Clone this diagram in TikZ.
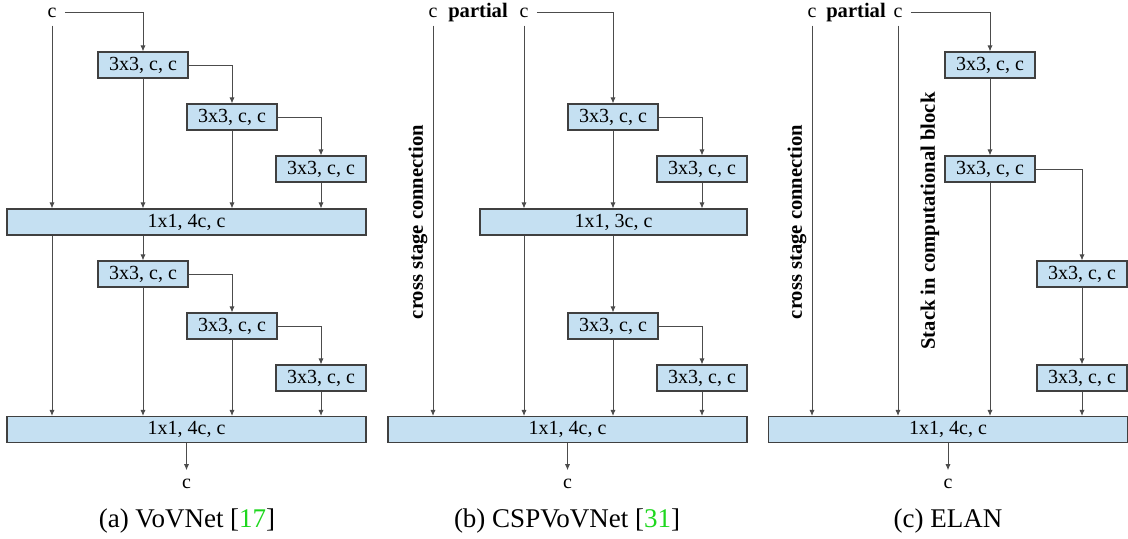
\documentclass[tikz,border=0pt]{standalone}
\usepackage{fontspec}
\setmainfont{Liberation Serif}
\usepackage{xcolor}
\usetikzlibrary{arrows.meta}
\usetikzlibrary{positioning}
\definecolor{boxblue}{RGB}{197,224,242}
\definecolor{refgreen}{RGB}{30,215,30}

\begin{document}
\begin{tikzpicture}
    [
    x=0.5pt,y=-0.5pt,
    conv/.style={draw=black!75,line width=0.6pt,fill=boxblue,minimum width=45pt,minimum height=13pt,inner sep=0pt,font=\fontsize{10}{12}\selectfont},
    agg/.style={conv,minimum width=179.5pt},
    chan/.style={inner sep=4pt,anchor=base,font=\fontsize{10}{12}\selectfont},
    tag/.style={inner sep=0pt,font=\fontsize{10.3}{12}\selectfont\bfseries},
    side/.style={tag,rotate=90},
    caption/.style={font=\fontsize{13.5}{16}\selectfont},
    link/.style={draw=black!70,line width=0.45pt,-{Latex[length=3pt,width=2.6pt]}},
    ]
    \useasboundingbox (0,0) rectangle (1128,538);

    % (a) VoVNet
    \node (ac) at (52,17) [chan] {c};
    \node (a1) at (143,65) [conv] {3x3, c, c};
    \node (a2) at (232,117) [conv] {3x3, c, c};
    \node (a3) at (321,169) [conv] {3x3, c, c};
    \node (am) at (186.5,222) [agg] {1x1, 4c, c};
    \node (a4) at (143,274) [conv] {3x3, c, c};
    \node (a5) at (232,326) [conv] {3x3, c, c};
    \node (a6) at (321,378) [conv] {3x3, c, c};
    \node (ao) at (186.5,429.5) [agg] {1x1, 4c, c};
    \node (aout) at (186.5,488) [chan] {c};
    \node (acap) at (187,521) [caption] {(a) VoVNet [\textcolor{refgreen}{17}]};
    \draw [link] (ac.east) -| (a1.north);
    \draw [link] (a1.east) -| (a2.north);
    \draw [link] (a2.east) -| (a3.north);
    \draw [link] (ac.south) -- (ac.south |- am.north);
    \draw [link] (a1) -- (a1 |- am.north);
    \draw [link] (a2) -- (a2 |- am.north);
    \draw [link] (a3) -- (a3 |- am.north);
    \draw [link] (a4 |- am.south) -- (a4);
    \draw [link] (ac |- am.south) -- (ac |- ao.north);
    \draw [link] (a4.east) -| (a5.north);
    \draw [link] (a5.east) -| (a6.north);
    \draw [link] (a4) -- (a4 |- ao.north);
    \draw [link] (a5) -- (a5 |- ao.north);
    \draw [link] (a6) -- (a6 |- ao.north);
    \draw [link] (ao.south) -- (aout.north);

    % (b) CSPVoVNet
    \node (bc1) at (433,17) [chan] {c};
    \node (bpart) at (478,17) [tag,anchor=base] {partial};
    \node (bc2) at (524,17) [chan] {c};
    \node (bcsc) at (418,222) [side] {cross stage connection};
    \node (b1) at (613,117) [conv] {3x3, c, c};
    \node (b2) at (702,169) [conv] {3x3, c, c};
    \node (bm) at (613.5,222) [conv,minimum width=133.5pt] {1x1, 3c, c};
    \node (b3) at (613,326) [conv] {3x3, c, c};
    \node (b4) at (702,378) [conv] {3x3, c, c};
    \node (bo) at (567.5,429.5) [agg] {1x1, 4c, c};
    \node (bout) at (567.5,488) [chan] {c};
    \node (bcap) at (567,521) [caption] {(b) CSPVoVNet [\textcolor{refgreen}{31}]};
    \draw [link] (bc2.east) -| (b1.north);
    \draw [link] (b1.east) -| (b2.north);
    \draw [link] (bc2.south) -- (bc2.south |- bm.north);
    \draw [link] (b1) -- (b1 |- bm.north);
    \draw [link] (b2) -- (b2 |- bm.north);
    \draw [link] (bc1.south) -- (bc1.south |- bo.north);
    \draw [link] (bc2 |- bm.south) -- (bc2 |- bo.north);
    \draw [link] (b3 |- bm.south) -- (b3);
    \draw [link] (b3.east) -| (b4.north);
    \draw [link] (b3) -- (b3 |- bo.north);
    \draw [link] (b4) -- (b4 |- bo.north);
    \draw [link] (bo.south) -- (bout.north);

    % (c) ELAN
    \node (cc1) at (812,17) [chan] {c};
    \node (cpart) at (856,17) [tag,anchor=base] {partial};
    \node (cc2) at (898,17) [chan] {c};
    \node (ccsc) at (797,222) [side] {cross stage connection};
    \node (cstack) at (930,221) [side] {Stack in computational block};
    \node (c1) at (990,65) [conv] {3x3, c, c};
    \node (c2) at (990,169) [conv] {3x3, c, c};
    \node (c3) at (1082,274) [conv] {3x3, c, c};
    \node (c4) at (1082,378) [conv] {3x3, c, c};
    \node (co) at (948,429.5) [agg] {1x1, 4c, c};
    \node (cout) at (948,488) [chan] {c};
    \node (ccap) at (948,521) [caption] {(c) ELAN};
    \draw [link] (cc2.east) -| (c1.north);
    \draw [link] (c1) -- (c2);
    \draw [link] (c2.east) -| (c3.north);
    \draw [link] (c3) -- (c4);
    \draw [link] (cc1.south) -- (cc1.south |- co.north);
    \draw [link] (cc2.south) -- (cc2.south |- co.north);
    \draw [link] (c2) -- (c2 |- co.north);
    \draw [link] (c4) -- (c4 |- co.north);
    \draw [link] (co.south) -- (cout.north);
  \end{tikzpicture}
\end{document}
